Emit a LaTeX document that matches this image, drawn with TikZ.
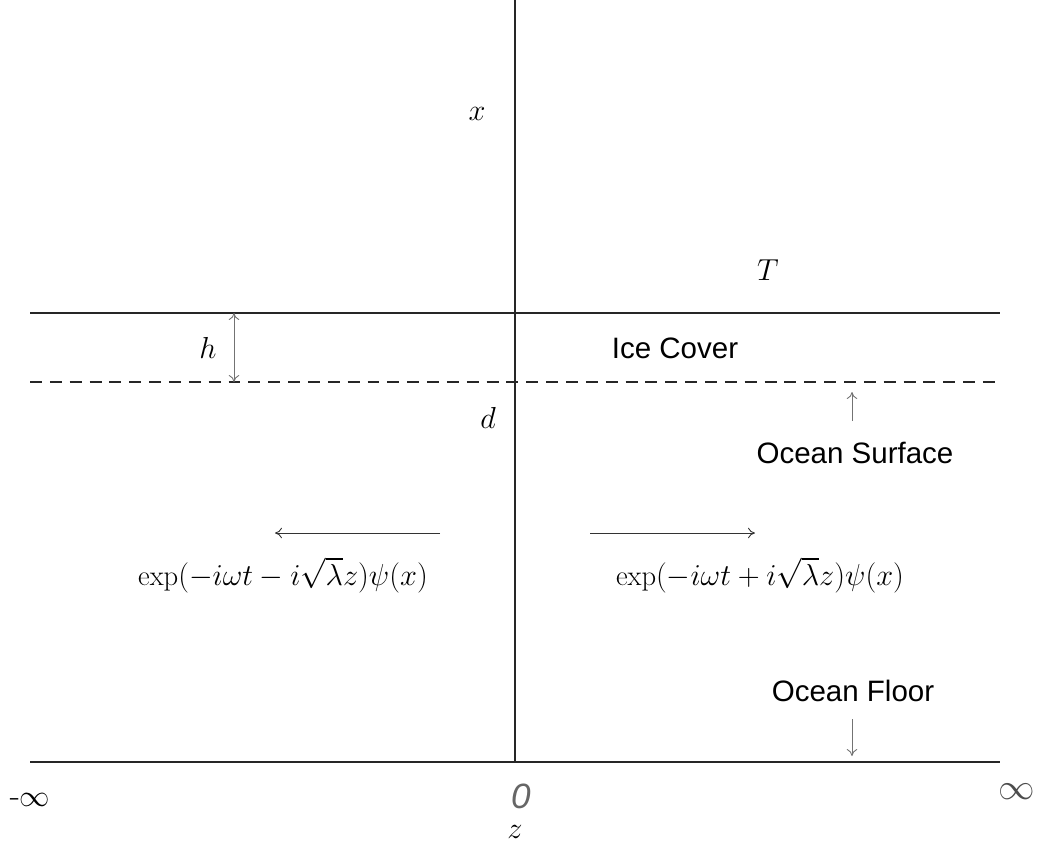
\documentclass[tikz,border=0pt]{standalone}
\usepackage{amsmath}
\usepackage{fontspec}
\setsansfont{Liberation Sans}
\usetikzlibrary{arrows.meta}

\begin{document}
\begin{tikzpicture}[x=0.02cm, y=-0.02cm,
    line/.style={draw=black!85, line width=0.6pt},
    thinarrow/.style={draw=black!55, line width=0.5pt, -{To[length=4pt,width=6pt]}},
    sans/.style={font=\sffamily\fontsize{16.8}{19}\selectfont},
    mathlbl/.style={font=\fontsize{16.3}{18}\selectfont}]
    \useasboundingbox (0, 0) rectangle (1045, 850);

    \coordinate (top) at (515, 0);
    \coordinate (bot) at (515, 762);
    \coordinate (iceL) at (30, 313);
    \coordinate (iceR) at (1000, 313);
    \coordinate (surfL) at (30, 382);
    \coordinate (surfR) at (1000, 382);
    \coordinate (floorL) at (30, 762);
    \coordinate (floorR) at (1000, 762);

    \draw [line] (top) -- (bot);
    \draw [line] (iceL) -- (iceR);
    \draw [line, dash pattern=on 6.8pt off 4.5pt] (surfL) -- (surfR);
    \draw [line] (floorL) -- (floorR);

    % thickness of the ice
    \coordinate (h1) at (234, 313);
    \coordinate (h2) at (234, 382);
    \draw [thinarrow, {To[length=4pt,width=6pt]}-{To[length=4pt,width=6pt]}] (h1) -- (h2);
    \node [mathlbl] (hlbl) at (208, 348) {$h$};

    \coordinate (s1) at (852, 421);
    \coordinate (s2) at (852, 392);
    \draw [thinarrow] (s1) -- (s2);
    \coordinate (f1) at (852, 719);
    \coordinate (f2) at (852, 756);
    \draw [thinarrow] (f1) -- (f2);

    % travelling waves
    \coordinate (wl1) at (440, 533);
    \coordinate (wl2) at (275, 533);
    \coordinate (wr1) at (590, 533);
    \coordinate (wr2) at (755, 533);
    \draw [thinarrow, draw=black!80] (wl1) -- (wl2);
    \draw [thinarrow, draw=black!80] (wr1) -- (wr2);

    \node [mathlbl] (wlft) at (283, 575) {$\exp(-i\omega t - i\sqrt{\lambda} z)\psi(x)$};
    \node [mathlbl] (wrgt) at (760, 575) {$\exp(-i\omega t + i\sqrt{\lambda} z)\psi(x)$};

    \node [mathlbl] (xlbl) at (477, 114) {$x$};
    \node [mathlbl] (Tlbl) at (768, 270) {$T$};
    \node [mathlbl] (dlbl) at (488, 418) {$d$};
    \node [mathlbl] (zlbl) at (515, 832) {$z$};

    \node [sans] (ice) at (675, 348) {Ice Cover};
    \node [sans] (surf) at (855, 453) {Ocean Surface};
    \node [sans] (floor) at (853, 691) {Ocean Floor};

    \node [font=\fontsize{19}{21}\selectfont] (minf) at (30, 800) {-$\infty$};
    \node [font=\sffamily\itshape\fontsize{20}{22}\selectfont, text=black!60] (zero) at (521, 796) {0};
    \node [font=\fontsize{22}{24}\selectfont, text=black!70] (pinf) at (1017, 792) {$\infty$};

\end{tikzpicture}
\end{document}
